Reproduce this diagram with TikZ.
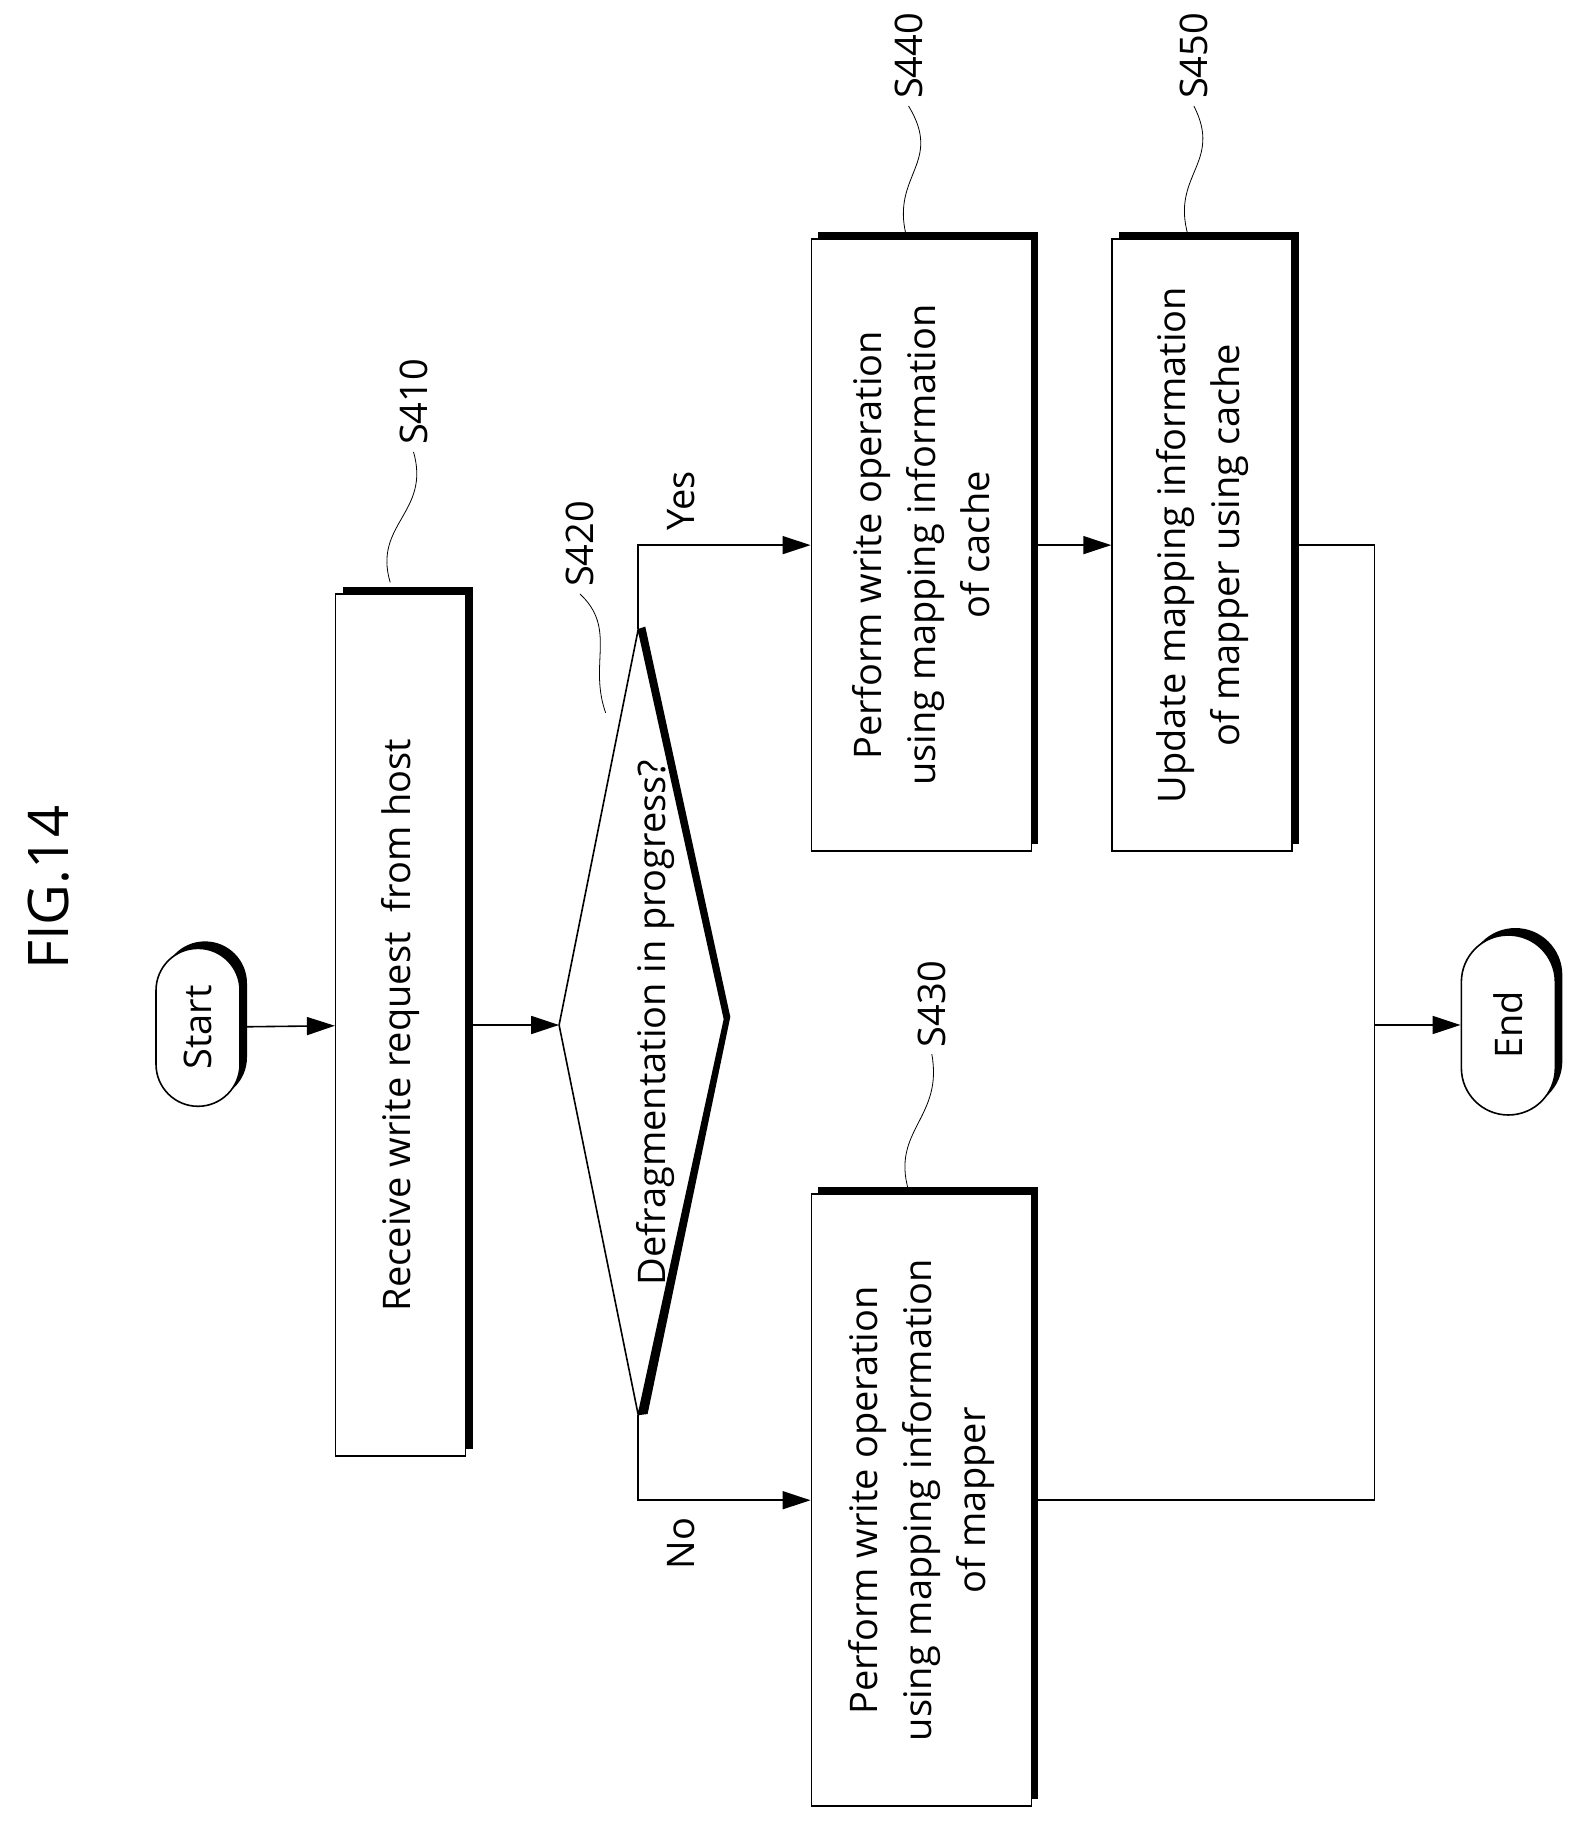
\documentclass[tikz,border=0pt]{standalone}
\usepackage{fontspec}
\setmainfont{Open Sans}
\usetikzlibrary{shapes.misc,shadows,arrows.meta}
\begin{document}
\begin{tikzpicture}[x=0.5825pt,y=-0.5825pt,
  txt/.style={font=\fontsize{19}{27}\selectfont,rotate=90,align=center},
  box/.style={txt,draw,thick,fill=white,inner sep=0pt,
    drop shadow={shadow xshift=3.5pt,shadow yshift=3.5pt,fill=black,opacity=1}},
  term/.style={box,rounded rectangle},
  lbl/.style={font=\fontsize{19}{22}\selectfont,rotate=90},
  arr/.style={thick,-{Triangle[length=14pt,width=9pt]}},
  ln/.style={thick}]
\useasboundingbox (0,0) rectangle (1360,1572);
\node[lbl,font=\fontsize{28}{30}\selectfont] (fig) at (42,762) {FIG.14};
\node[term,minimum width=79pt,minimum height=42pt] (start) at (170,882) {Start};
\node[box,minimum width=431pt,minimum height=65pt] (s410) at (344,880) {Receive write request~ from host};
\coordinate (dl) at (480,880); \coordinate (dt) at (548,540);
\coordinate (dr) at (622,875); \coordinate (db) at (548,1215);
\fill (dt) -- (554,538) -- (627,873) -- (556,1214) -- (db) -- (dr) -- cycle;
\draw[thick,fill=white] (dl) -- (dt) -- (dr) -- (db) -- cycle;
\node[txt] (d) at (563,878) {Defragmentation in progress?};
\node[box,minimum width=306pt,minimum height=110pt] (s440) at (791,468) {Perform write operation\\using mapping information\\of cache};
\node[box,minimum width=306pt,minimum height=90pt] (s450) at (1032,468) {Update mapping information\\of mapper using cache};
\node[box,minimum width=306pt,minimum height=110pt] (s430) at (791,1288) {Perform write operation\\using mapping information\\of mapper};
\node[term,minimum width=90pt,minimum height=47pt] (end) at (1295,880) {End};
\coordinate (j) at (1180,880);
\draw[arr] (start) -- (s410);
\draw[arr] (s410) -- (dl);
\draw[arr] (dt) |- (s440);
\draw[arr] (db) |- (s430);
\draw[arr] (s440) -- (s450);
\draw[ln] (s450.south) -| (j);
\draw[ln] (s430.south) -| (j);
\draw[arr] (j) -- (end);
\node[lbl] (yes) at (585,430) {Yes};
\node[lbl] (no) at (585,1325) {No};
\node[lbl] (l410) at (355,345) {S410};
\node[lbl] (l420) at (498,467) {S420};
\node[lbl] (l430) at (800,862) {S430};
\node[lbl] (l440) at (780,48) {S440};
\node[lbl] (l450) at (1025,48) {S450};
\draw (335,500) .. controls (320,450) and (370,440) .. (l410.west);
\draw (520,612) .. controls (505,570) and (530,540) .. (l420.west);
\draw (780,1022) .. controls (765,970) and (810,960) .. (l430.west);
\draw (778,202) .. controls (765,150) and (810,140) .. (l440.west);
\draw (1020,202) .. controls (1005,150) and (1050,140) .. (l450.west);
\end{tikzpicture}
\end{document}
